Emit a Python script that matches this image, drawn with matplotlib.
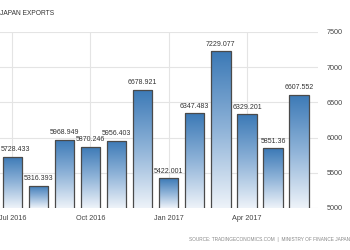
import numpy as np
import matplotlib
matplotlib.use("Agg")
from matplotlib import pyplot as plt
from matplotlib.colors import LinearSegmentedColormap

plt.rcParams['font.family'] = ['Liberation Sans', 'DejaVu Sans']

# Japan exports, monthly (JPY billion)
months = ["Jul 2016", "Aug 2016", "Sep 2016", "Oct 2016", "Nov 2016", "Dec 2016",
          "Jan 2017", "Feb 2017", "Mar 2017", "Apr 2017", "May 2017", "Jun 2017"]
values = [5728.433, 5316.393, 5968.949, 5870.246, 5956.403, 6678.921,
          5422.001, 6347.483, 7229.077, 6329.201, 5851.36, 6607.552]
value_labels = ["5728.433", "5316.393", "5968.949", "5870.246", "5956.403", "6678.921",
                "5422.001", "6347.483", "7229.077", "6329.201", "5851.36", "6607.552"]
tick_months = ["Jul 2016", "Oct 2016", "Jan 2017", "Apr 2017"]
y_ticks = [5000, 5500, 6000, 6500, 7000, 7500]

fig = plt.figure(figsize=(3.5, 2.5), dpi=100)
ax = fig.add_axes([0.0, 0.168, 0.909, 0.704])

x = np.arange(len(values))
bars = ax.bar(x, values, width=0.74, bottom=0, color="none",
              edgecolor="#4a4a4a", linewidth=0.9, zorder=3)

# vertical gradient fill, dark blue on top to pale at the base
cmap = LinearSegmentedColormap.from_list("tg", ["#eef3f9", "#8fb3d8", "#3b79b6"])
grad = np.linspace(0, 1, 256).reshape(-1, 1)
for b in bars:
    x0, w, h = b.get_x(), b.get_width(), b.get_height()
    im = ax.imshow(grad, cmap=cmap, origin="lower", aspect="auto",
                   extent=[x0, x0 + w, 5000, h], zorder=2)
    im.set_clip_path(b)

xmin, xmax = -0.47, 11.73
for xi, v, lab in zip(x, values, value_labels):
    # first label would run off the left edge, pin it there
    if xi == 0:
        ax.text(xmin + 0.02, v + 50, lab, ha="left", va="bottom", fontsize=5,
                color="#333333", zorder=4)
    else:
        ax.text(xi, v + 50, lab, ha="center", va="bottom", fontsize=5,
                color="#333333", zorder=4)

ax.set_xlim(xmin, xmax)
ax.set_ylim(5000, 7500)
ax.set_xticks([months.index(m) for m in tick_months])
ax.set_xticklabels(tick_months)
ax.set_yticks(y_ticks)
ax.yaxis.tick_right()
ax.tick_params(axis="both", length=0, labelsize=5.2, colors="#444444")
ax.tick_params(axis="x", pad=5)
ax.tick_params(axis="y", pad=6)
ax.grid(True, color="#e4e4e4", linewidth=0.8, zorder=0)
for s in ax.spines.values():
    s.set_visible(False)

fig.text(0.0, 0.945, "JAPAN EXPORTS", fontsize=4.8, color="#333333",
         ha="left", va="center")
fig.text(1.0, 0.04, "SOURCE: TRADINGECONOMICS.COM  |  MINISTRY OF FINANCE JAPAN",
         fontsize=3.4, color="#888888", ha="right", va="center")

fig.savefig("out.png", dpi=100)
